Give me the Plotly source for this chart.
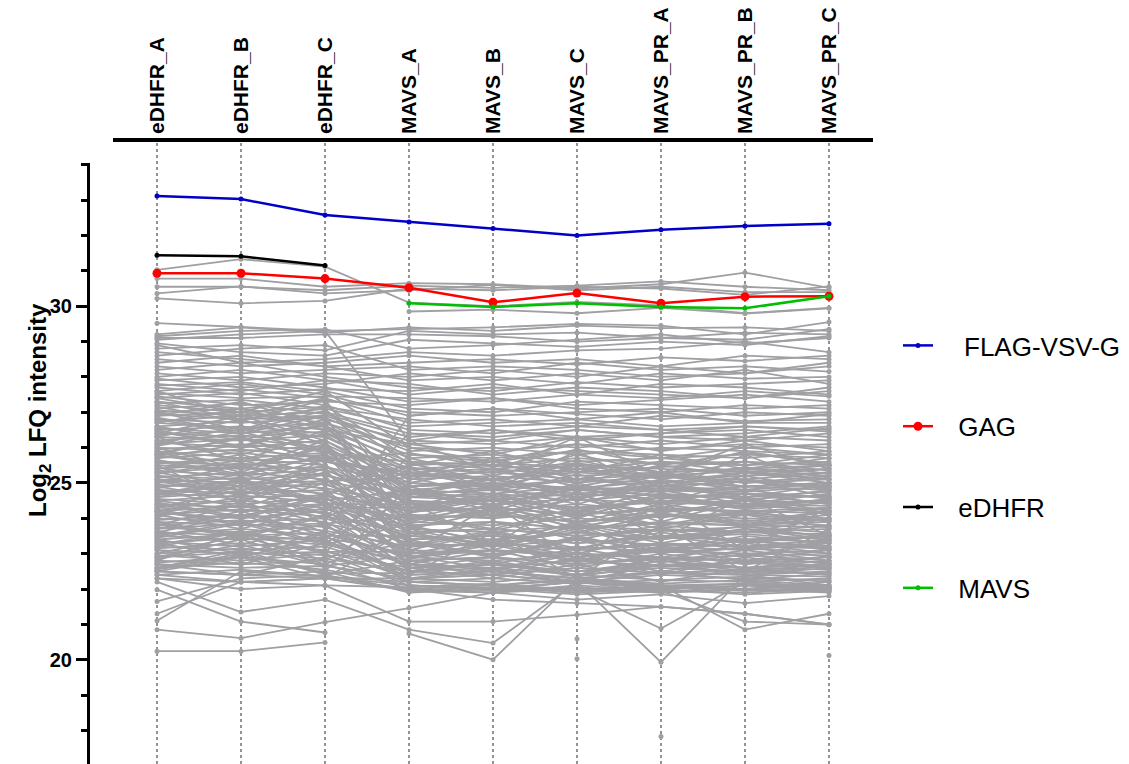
import plotly.graph_objects as go

categories = ["eDHFR_A", "eDHFR_B", "eDHFR_C", "MAVS_A", "MAVS_B", "MAVS_C",
              "MAVS_PR_A", "MAVS_PR_B", "MAVS_PR_C"]

flag_vsv_g = [33.12, 33.03, 32.58, 32.38, 32.20, 32.00, 32.16, 32.27, 32.33]
gag = [30.93, 30.93, 30.78, 30.52, 30.11, 30.37, 30.08, 30.27, 30.28]
edhfr = [31.44, 31.41, 31.15, None, None, None, None, None, None]
mavs = [None, None, None, 30.08, 29.98, 30.08, 29.98, 29.94, 30.28]

N = None
gray_profiles = [
    # high abundance
    [31.03, 31.33, 31.12, 30.10, 30.00, 30.12, 30.02, 29.80, 29.95],
    [30.78, 30.78, 30.55, 30.65, 30.62, 30.50, 30.62, 30.95, 30.52],
    [30.55, 30.55, 30.45, 30.58, 30.52, 30.58, 30.70, 30.55, 30.45],
    [30.36, 30.56, 30.36, 30.45, 30.60, 30.45, 30.55, 30.40, 30.40],
    [30.22, 30.08, 30.15, 30.50, 30.45, 30.55, 30.50, 30.32, 30.56],
    [N, N, N, 29.85, 29.90, 29.80, 29.95, 29.79, 29.94],
    [29.52, 29.42, 29.30, 29.35, 29.40, 29.50, 29.45, 29.20, 29.55],
    [29.20, 29.40, 29.25, 29.40, 29.30, 29.45, 29.38, 29.40, 29.30],
    [29.15, 29.30, 29.35, 28.80, 28.90, 29.05, 29.20, 28.95, 29.10],
    [29.10, 29.10, 29.20, 29.20, 29.15, 29.00, 29.10, 29.25, 29.20],
    [29.05, 29.20, 29.30, 26.20, 26.50, 26.30, 26.40, 26.60, 26.45],
    [28.95, 28.70, 28.60, 29.05, 28.95, 28.85, 29.00, 28.90, 29.15],
    [28.90, 28.40, 28.50, 28.70, 28.60, 28.75, 28.80, 29.00, 28.70],
    [28.80, 28.90, 28.75, 29.30, 29.20, 29.25, 29.10, 29.05, 29.35],
    [28.70, 28.50, 28.30, 28.40, 28.50, 28.35, 28.55, 28.45, 28.60],
    [28.60, 28.80, 28.90, 28.20, 28.30, 28.20, 28.00, 28.10, 28.30],
    [28.50, 28.30, 28.40, 28.60, 28.40, 28.50, 28.30, 28.60, 28.50],
    [28.40, 28.60, 28.30, 27.90, 28.00, 27.80, 28.10, 27.95, 28.00],
    [28.30, 28.10, 28.20, 28.30, 28.10, 28.40, 28.20, 28.30, 28.15],
    [28.20, 28.40, 28.00, 27.70, 27.60, 27.85, 27.70, 27.80, 27.90],
    [28.10, 27.90, 28.10, 28.00, 28.20, 28.00, 28.30, 28.10, 28.40],
    [28.00, 28.20, 27.90, 27.50, 27.70, 27.60, 27.50, 27.40, 27.60],
    [27.95, 27.70, 27.80, 28.10, 27.90, 28.10, 27.90, 28.20, 27.80],
    [27.90, 28.00, 27.70, 27.30, 27.40, 27.20, 27.35, 27.50, 27.30],
    [27.80, 27.60, 27.90, 27.80, 27.50, 27.70, 27.60, 27.40, 27.70],
    [27.75, 27.85, 27.60, 27.10, 27.00, 27.30, 27.20, 27.10, 27.20],
    [27.70, 27.50, 27.65, 27.60, 27.80, 27.50, 27.80, 27.70, 27.50],
    [27.60, 27.80, 27.50, 26.90, 27.10, 26.95, 26.80, 27.00, 26.90],
    [27.55, 27.40, 27.45, 27.40, 27.30, 27.50, 27.40, 27.60, 27.45],
    [27.50, 27.65, 27.40, 26.70, 26.80, 26.60, 26.90, 26.75, 26.80],
    [27.45, 27.20, 27.30, 27.20, 27.40, 27.10, 27.00, 27.20, 27.10],
    [27.40, 27.55, 27.20, 26.50, 26.40, 26.60, 26.50, 26.30, 26.55],
    [27.30, 27.10, 27.35, 27.00, 26.90, 27.00, 27.10, 26.90, 27.00],
    [27.25, 27.35, 27.10, 26.60, 26.70, 26.80, 26.60, 26.70, 26.70],
    [27.20, 27.00, 27.15, 26.80, 26.60, 26.70, 26.50, 26.60, 26.50],
    [27.10, 27.25, 26.95, 26.30, 26.50, 26.20, 26.40, 26.50, 26.30],
    [27.05, 26.90, 27.00, 26.40, 26.30, 26.50, 26.30, 26.20, 26.40],
    [27.00, 27.10, 26.80, 26.20, 26.10, 26.30, 26.10, 26.30, 26.20],
    [26.95, 26.80, 26.90, 26.10, 26.20, 26.00, 26.20, 26.00, 26.10],
    [26.90, 27.00, 26.70, 26.00, 25.90, 26.10, 25.95, 26.10, 26.00],
    [26.80, 26.70, 26.85, 25.90, 26.00, 25.80, 26.00, 25.90, 25.80],
    [26.75, 26.90, 26.60, 25.80, 25.70, 25.90, 25.80, 25.70, 25.90],
    [26.70, 26.55, 26.70, 25.70, 25.80, 25.60, 25.70, 25.80, 25.70],
    [26.60, 26.75, 26.50, 25.60, 25.50, 25.70, 25.55, 25.60, 25.50],
    [26.55, 26.40, 26.60, 25.50, 25.60, 25.40, 25.60, 25.50, 25.60],
    [26.50, 26.60, 26.40, 25.40, 25.30, 25.50, 25.40, 25.30, 25.40],
    [26.40, 26.30, 26.45, 25.30, 25.40, 25.20, 25.30, 25.40, 25.20],
    [26.35, 26.50, 26.30, 25.20, 25.10, 25.30, 25.15, 25.20, 25.30],
    [26.30, 26.20, 26.35, 25.10, 25.20, 25.00, 25.20, 25.00, 25.10],
    [26.20, 26.35, 26.10, 25.00, 24.90, 25.10, 25.00, 25.10, 24.90],
    [26.15, 26.00, 26.20, 24.90, 25.00, 24.80, 24.90, 24.80, 25.00],
    [26.10, 26.25, 26.00, 24.80, 24.70, 24.90, 24.75, 24.90, 24.80],
    [26.00, 25.90, 26.05, 24.70, 24.80, 24.60, 24.80, 24.70, 24.60],
    # dense core
    [25.95, 26.10, 25.90, 25.40, 25.50, 25.30, 25.45, 25.60, 25.35],
    [25.90, 25.70, 25.85, 25.60, 25.40, 25.55, 25.30, 25.40, 25.50],
    [25.80, 25.95, 25.70, 25.20, 25.30, 25.10, 25.25, 25.10, 25.30],
    [25.75, 25.60, 25.80, 24.60, 24.50, 24.70, 24.55, 24.70, 24.60],
    [25.70, 25.85, 25.60, 25.30, 25.10, 25.40, 25.20, 25.35, 25.10],
    [25.60, 25.50, 25.65, 24.90, 25.00, 24.85, 25.05, 24.90, 25.00],
    [25.55, 25.70, 25.50, 24.40, 24.50, 24.30, 24.45, 24.35, 24.50],
    [25.50, 25.40, 25.45, 25.00, 24.80, 25.10, 24.90, 25.05, 24.85],
    [25.40, 25.55, 25.35, 24.70, 24.60, 24.80, 24.65, 24.60, 24.75],
    [25.35, 25.20, 25.40, 24.20, 24.30, 24.10, 24.25, 24.20, 24.30],
    [25.30, 25.45, 25.20, 24.80, 24.95, 24.70, 24.85, 24.75, 24.90],
    [25.20, 25.10, 25.25, 24.50, 24.40, 24.55, 24.40, 24.50, 24.45],
    [25.15, 25.30, 25.10, 24.00, 24.10, 23.90, 24.05, 24.10, 23.95],
    [25.10, 25.00, 25.05, 24.60, 24.70, 24.50, 24.70, 24.55, 24.65],
    [25.00, 25.15, 24.95, 24.30, 24.20, 24.40, 24.20, 24.35, 24.25],
    [24.95, 24.80, 25.00, 23.80, 23.90, 23.70, 23.85, 23.80, 23.90],
    [24.90, 25.05, 24.85, 24.40, 24.50, 24.30, 24.50, 24.40, 24.35],
    [24.80, 24.70, 24.80, 24.10, 24.00, 24.20, 24.05, 24.15, 24.00],
    [24.75, 24.90, 24.70, 23.60, 23.70, 23.50, 23.65, 23.60, 23.70],
    [24.70, 24.60, 24.65, 24.20, 24.30, 24.10, 24.30, 24.20, 24.15],
    [24.60, 24.75, 24.55, 23.90, 23.80, 24.00, 23.85, 23.95, 23.80],
    [24.55, 24.40, 24.60, 23.40, 23.50, 23.30, 23.45, 23.40, 23.50],
    [24.50, 24.65, 24.45, 24.00, 24.10, 23.90, 24.10, 24.00, 23.95],
    [24.40, 24.30, 24.40, 23.70, 23.60, 23.80, 23.65, 23.75, 23.60],
    [24.35, 24.50, 24.30, 23.20, 23.30, 23.10, 23.25, 23.20, 23.30],
    [24.30, 24.20, 24.25, 23.80, 23.90, 23.70, 23.90, 23.80, 23.75],
    [24.20, 24.35, 24.15, 23.50, 23.40, 23.60, 23.45, 23.55, 23.40],
    [24.15, 24.00, 24.20, 23.00, 23.10, 22.90, 23.05, 23.00, 23.10],
    [24.10, 24.25, 24.05, 23.60, 23.70, 23.50, 23.70, 23.60, 23.55],
    [24.00, 23.90, 24.00, 23.30, 23.20, 23.40, 23.25, 23.35, 23.20],
    [23.95, 24.10, 23.90, 22.80, 22.90, 22.70, 22.85, 22.80, 22.90],
    [23.90, 23.80, 23.85, 23.40, 23.50, 23.30, 23.50, 23.40, 23.35],
    [23.80, 23.95, 23.75, 23.10, 23.00, 23.20, 23.05, 23.15, 23.00],
    [23.75, 23.60, 23.80, 22.60, 22.70, 22.50, 22.65, 22.60, 22.70],
    [23.70, 23.85, 23.65, 23.20, 23.30, 23.10, 23.30, 23.20, 23.15],
    [23.60, 23.50, 23.60, 22.90, 22.80, 23.00, 22.85, 22.95, 22.80],
    [23.55, 23.70, 23.50, 22.40, 22.50, 22.30, 22.45, 22.40, 22.50],
    [23.50, 23.40, 23.45, 23.00, 23.10, 22.90, 23.10, 23.00, 22.95],
    [23.40, 23.55, 23.35, 22.70, 22.60, 22.80, 22.65, 22.75, 22.60],
    [23.35, 23.20, 23.40, 22.20, 22.30, 22.15, 22.25, 22.20, 22.30],
    [23.30, 23.45, 23.25, 22.80, 22.90, 22.70, 22.90, 22.80, 22.75],
    [23.20, 23.10, 23.20, 22.50, 22.40, 22.60, 22.45, 22.55, 22.40],
    [23.15, 23.30, 23.10, 22.30, 22.20, 22.40, 22.25, 22.35, 22.20],
    [23.10, 23.00, 23.05, 22.60, 22.70, 22.50, 22.70, 22.60, 22.55],
    [23.00, 23.15, 22.95, 22.40, 22.50, 22.30, 22.50, 22.40, 22.35],
    [22.95, 22.80, 23.00, 22.10, 22.00, 22.20, 22.05, 22.15, 22.00],
    [22.90, 23.05, 22.85, 22.50, 22.60, 22.40, 22.60, 22.50, 22.45],
    [22.80, 22.70, 22.80, 22.20, 22.10, 22.30, 22.15, 22.25, 22.10],
    [22.75, 22.90, 22.70, 22.00, 22.10, 21.90, 22.05, 22.00, 22.10],
    [22.70, 22.60, 22.65, 22.30, 22.40, 22.20, 22.40, 22.30, 22.25],
    [22.60, 22.75, 22.55, 22.10, 22.00, 22.20, 22.00, 22.10, 22.00],
    [22.50, 22.40, 22.50, 21.90, 22.00, 21.85, 21.95, 21.90, 22.00],
    [22.40, 22.55, 22.35, 22.20, 22.10, 22.25, 22.10, 22.15, 22.05],
    [22.30, 22.20, 22.30, 21.95, 21.90, 22.00, 21.90, 22.00, 21.95],
    # zig-zag core profiles
    [26.60, 26.20, 26.80, 24.30, 24.90, 24.20, 24.80, 24.40, 24.70],
    [22.90, 23.40, 22.70, 23.60, 23.10, 23.80, 23.00, 23.70, 23.20],
    [25.70, 26.10, 25.50, 23.80, 23.30, 23.90, 23.50, 23.60, 24.00],
    [24.80, 24.30, 25.00, 25.50, 25.90, 25.30, 25.80, 25.40, 25.70],
    [23.40, 23.00, 23.60, 22.70, 22.40, 22.90, 22.50, 22.80, 22.60],
    [26.40, 26.90, 26.20, 25.10, 25.60, 25.00, 25.50, 25.20, 25.40],
    [24.40, 24.00, 24.60, 22.90, 23.30, 22.80, 23.20, 22.90, 23.40],
    [25.90, 25.30, 26.10, 24.10, 23.70, 24.30, 23.80, 24.20, 23.90],
    [23.00, 23.50, 22.80, 24.20, 24.60, 24.00, 24.70, 24.30, 24.50],
    [27.00, 26.50, 27.20, 25.70, 25.20, 25.80, 25.30, 25.90, 25.50],
    [24.60, 25.00, 24.40, 22.50, 22.80, 22.40, 22.90, 22.60, 22.80],
    [25.30, 24.90, 25.50, 23.90, 24.40, 23.70, 24.30, 23.80, 24.20],
    [22.70, 22.40, 22.90, 23.30, 22.90, 23.40, 22.80, 23.30, 23.00],
    [26.10, 26.60, 25.90, 24.50, 24.10, 24.70, 24.00, 24.60, 24.20],
    [23.60, 24.10, 23.40, 25.00, 25.40, 24.90, 25.30, 25.00, 25.20],
    [24.90, 24.50, 25.10, 23.40, 22.90, 23.50, 23.00, 23.40, 23.10],
    [25.60, 25.20, 25.80, 24.90, 24.30, 25.00, 24.40, 25.10, 24.60],
    [23.30, 22.90, 23.50, 22.30, 22.60, 22.20, 22.70, 22.40, 22.60],
    [26.90, 27.30, 26.60, 24.70, 25.20, 24.60, 25.10, 24.80, 25.00],
    [24.20, 23.80, 24.40, 24.40, 24.00, 24.60, 23.90, 24.50, 24.10],
    [25.00, 25.50, 24.80, 23.20, 23.60, 23.10, 23.70, 23.30, 23.50],
    [22.60, 23.10, 22.40, 22.80, 22.50, 23.00, 22.40, 22.90, 22.60],
    [26.20, 25.80, 26.40, 25.40, 24.80, 25.50, 24.90, 25.30, 25.00],
    [23.90, 23.50, 24.10, 23.10, 23.60, 23.00, 23.50, 23.20, 23.40],
    [27.40, 27.00, 27.60, 26.00, 25.60, 26.10, 25.70, 26.00, 25.80],
    [24.70, 25.10, 24.50, 24.80, 24.20, 24.90, 24.30, 24.70, 24.40],
    [25.40, 25.80, 25.20, 22.70, 23.10, 22.60, 23.00, 22.70, 22.90],
    [23.10, 22.70, 23.30, 24.60, 24.90, 24.40, 25.00, 24.50, 24.80],
    [26.50, 26.00, 26.70, 23.70, 24.20, 23.60, 24.10, 23.80, 24.00],
    [24.30, 24.80, 24.10, 22.60, 22.30, 22.70, 22.20, 22.60, 22.40],
    [25.80, 26.30, 25.60, 25.20, 25.70, 25.10, 25.60, 25.30, 25.50],
    [22.50, 22.90, 22.30, 23.70, 23.20, 23.80, 23.30, 23.70, 23.40],
    [24.10, 23.70, 24.30, 24.30, 24.70, 24.20, 24.60, 24.40, 24.50],
    [25.10, 24.70, 25.30, 23.60, 23.20, 23.70, 23.10, 23.50, 23.30],
    [26.70, 27.10, 26.50, 26.10, 25.80, 26.30, 25.90, 26.20, 25.90],
    [23.50, 23.90, 23.30, 22.50, 22.70, 22.40, 22.80, 22.50, 22.70],
    [24.50, 24.20, 24.70, 25.30, 24.90, 25.40, 25.00, 25.30, 25.10],
    [25.80, 25.40, 26.00, 24.00, 24.50, 23.90, 24.40, 24.10, 24.30],
    [23.70, 24.20, 23.50, 23.50, 23.90, 23.40, 23.80, 23.60, 23.80],
    [26.30, 26.80, 26.10, 22.90, 23.10, 23.00, 22.90, 23.20, 22.90],
    [25.65, 25.25, 25.75, 24.15, 24.55, 24.05, 24.60, 24.25, 24.45],
    [24.65, 25.05, 24.45, 23.35, 22.95, 23.45, 23.05, 23.40, 23.15],
    [23.85, 23.45, 24.05, 24.75, 24.35, 24.85, 24.45, 24.80, 24.55],
    [26.45, 26.05, 26.65, 23.95, 24.35, 23.85, 24.25, 23.90, 24.20],
    [22.85, 23.25, 22.65, 22.95, 22.55, 23.05, 22.65, 23.00, 22.70],
    [25.25, 25.65, 25.05, 25.15, 24.65, 25.25, 24.75, 25.20, 24.80],
    [24.25, 23.85, 24.45, 22.85, 23.25, 22.75, 23.15, 22.80, 23.10],
    [26.85, 26.45, 27.05, 25.55, 25.05, 25.65, 25.15, 25.60, 25.25],
    [23.45, 23.85, 23.25, 23.85, 24.25, 23.75, 24.15, 23.85, 24.10],
    [25.05, 24.65, 25.25, 24.45, 24.05, 24.55, 24.15, 24.50, 24.15],
    [22.55, 22.95, 22.45, 22.45, 22.75, 22.35, 22.70, 22.45, 22.65],
    [26.05, 26.45, 25.85, 23.25, 23.65, 23.15, 23.60, 23.30, 23.55],
    [24.45, 24.05, 24.65, 25.45, 25.05, 25.55, 25.10, 25.45, 25.15],
    [23.25, 23.65, 23.05, 23.05, 22.70, 23.15, 22.75, 23.10, 22.80],
    [25.45, 25.05, 25.65, 24.65, 25.10, 24.55, 25.00, 24.60, 24.95],
    [24.85, 25.25, 24.65, 23.75, 23.35, 23.85, 23.40, 23.80, 23.45],
    [27.15, 26.75, 27.35, 24.25, 24.65, 24.15, 24.60, 24.30, 24.55],
    [23.65, 23.25, 23.85, 22.25, 22.55, 22.15, 22.50, 22.25, 22.45],
    [25.85, 26.25, 25.65, 25.85, 25.45, 25.95, 25.50, 25.85, 25.55],
    [24.05, 24.45, 23.85, 24.05, 23.65, 24.15, 23.70, 24.10, 23.75],
    # crossing profiles
    [26.80, 26.40, 26.90, 23.50, 23.30, 23.60, 23.40, 23.70, 23.50],
    [23.20, 23.60, 23.00, 25.80, 25.60, 25.90, 25.70, 25.50, 25.80],
    [25.20, 24.80, 25.40, 22.60, 22.90, 22.50, 22.80, 22.60, 22.70],
    [22.60, 23.00, 22.50, 24.90, 25.10, 24.80, 25.20, 24.90, 25.00],
    [27.30, 26.80, 27.10, 24.80, 24.50, 24.90, 24.60, 24.70, 24.40],
    [24.20, 24.60, 24.00, 26.40, 26.20, 26.50, 26.30, 26.40, 26.60],
    [26.00, 25.40, 26.20, 23.00, 23.40, 22.90, 23.20, 23.10, 23.30],
    [23.80, 24.40, 23.60, 26.90, 27.10, 26.80, 27.00, 26.70, 26.95],
    [N, N, N, 24.50, 23.20, 24.80, 23.40, 24.60, 23.50],
    [N, N, N, 23.00, 24.40, 22.80, 24.50, 23.10, 24.30],
    [N, N, N, 25.60, 24.80, 25.90, 24.70, 25.80, 24.90],
    [N, N, N, 22.40, 23.60, 22.30, 23.80, 22.50, 23.70],
    [N, N, N, 26.20, 25.30, 26.30, 25.20, 26.10, 25.40],
    [25.50, 24.40, 25.70, N, N, N, N, N, N],
    [24.00, 25.20, 23.80, N, N, N, N, N, N],
    [26.30, 25.60, 26.50, N, N, N, N, N, N],
    [22.80, 23.60, 22.60, N, N, N, N, N, N],
    [27.60, 26.90, 27.40, N, N, N, N, N, N],
    # low abundance
    [20.24, 20.24, 20.49, N, N, N, N, N, N],
    [20.85, 20.61, 21.06, 21.46, 21.90, 21.70, 21.85, 21.60, 21.80],
    [21.65, 22.30, 22.40, 21.95, 22.05, 21.90, 22.00, 21.85, 21.95],
    [21.10, 22.50, 22.35, 22.10, 21.95, 22.05, 21.90, 22.00, 21.90],
    [21.30, 22.20, 22.10, 22.05, 22.15, 21.95, 22.10, 21.95, 22.05],
    [21.98, 21.08, 20.77, N, N, N, N, N, N],
    [22.20, 21.35, 21.70, 20.85, 20.47, 22.20, 21.90, 22.10, 21.95],
    [N, N, N, 20.74, 20.00, 22.30, 22.10, 22.00, 22.20],
    [22.40, 22.20, 22.30, 22.30, 22.40, 22.20, 19.93, 22.40, 22.10],
    [22.30, 22.00, 22.10, 21.08, 21.08, 21.27, 21.50, 21.30, 20.99],
    [N, N, N, 22.20, 22.10, 22.00, 20.88, 22.20, 22.05],
    [N, N, N, 22.10, 22.00, 22.20, 22.10, 20.85, 21.30],
    [22.50, 22.40, 22.30, 22.00, 21.90, 22.10, 21.95, 21.08, 20.99],
    [N, N, N, 22.00, 21.70, 21.60, 21.50, 21.30, 21.00],
    [N, N, N, N, N, 20.59, N, N, N],
    [N, N, N, N, N, 20.03, N, N, N],
    [N, N, N, N, N, N, N, N, 20.12],
    [N, N, N, N, N, N, 17.83, N, N],
]

GRAY = "rgb(160,160,164)"
FONT = "Liberation Sans, Arial, sans-serif"

fig = go.Figure()

for prof in gray_profiles:
    fig.add_trace(go.Scatter(
        x=categories, y=prof, mode="lines+markers",
        line=dict(color=GRAY, width=1.8),
        marker=dict(color=GRAY, size=5),
        connectgaps=False, showlegend=False, hoverinfo="skip"))

series = [
    ("\u2002\u2002FLAG-VSV-G", flag_vsv_g, "rgb(0,0,200)", 5, 1),
    ("\u2002\u00a0eDHFR", edhfr, "black", 5, 3),
    ("\u2002\u00a0GAG", gag, "rgb(255,0,0)", 9, 2),
    ("\u2002\u00a0MAVS", mavs, "rgb(0,190,0)", 5, 4),
]
for name, vals, color, msize, rank in series:
    fig.add_trace(go.Scatter(
        x=categories, y=vals, mode="lines+markers", name=name,
        line=dict(color=color, width=2.5),
        marker=dict(color=color, size=msize),
        legendgroup=name, legendrank=rank, connectgaps=False))

for c in categories:
    fig.add_shape(type="line", xref="x", yref="paper", x0=c, x1=c, y0=0, y1=0.995,
                  line=dict(color="rgb(90,90,90)", width=1.3, dash="dot"), layer="below")

# y-axis title placed as rotated text (the axis runs past the bottom edge)
fig.add_annotation(text="<b>Log<sub>2</sub> LFQ intensity</b>", textangle=-90,
                   xref="paper", yref="paper", x=(31 - 80) / 785, y=(756 - 402) / 624,
                   xanchor="center", yanchor="middle", showarrow=False,
                   font=dict(size=24, family=FONT, color="black"))

fig.update_layout(
    width=1129, height=764,
    margin=dict(l=80, r=264, t=132, b=8, autoexpand=False),
    paper_bgcolor="white", plot_bgcolor="white",
    font=dict(family=FONT, color="black"),
    xaxis=dict(
        type="category", categoryorder="array", categoryarray=categories,
        domain=[25 / 785, 1], range=[-0.524, 8.524],
        side="top", anchor="free", position=1,
        showline=True, linewidth=3.5, linecolor="black",
        ticks="", tickangle=-90, showgrid=False, zeroline=False,
        tickfont=dict(size=21, family=FONT, weight="bold", color="black"),
        automargin=False),
    yaxis=dict(
        domain=[0, 601 / 624], range=[17.05, 34.05],
        anchor="free", position=0,
        showline=True, linewidth=3, linecolor="black",
        ticks="outside", ticklen=11, tickwidth=3, tickcolor="black",
        tickvals=[20, 25, 30], ticktext=["20", "25", "30"],
        minor=dict(ticks="outside", ticklen=6, tickwidth=3, tickcolor="black",
                   tickmode="linear", tick0=0, dtick=1),
        showgrid=False, zeroline=False,
        tickfont=dict(size=20, family=FONT, weight="bold", color="black"),
        automargin=False),
    legend=dict(x=(898 - 88) / 785, y=(756 - 314) / 624, xanchor="left", yanchor="top",
                font=dict(size=26, family=FONT, color="black"),
                tracegroupgap=44, bgcolor="rgba(0,0,0,0)", traceorder="grouped"),
    showlegend=True,
)

fig.write_html("out.html")
